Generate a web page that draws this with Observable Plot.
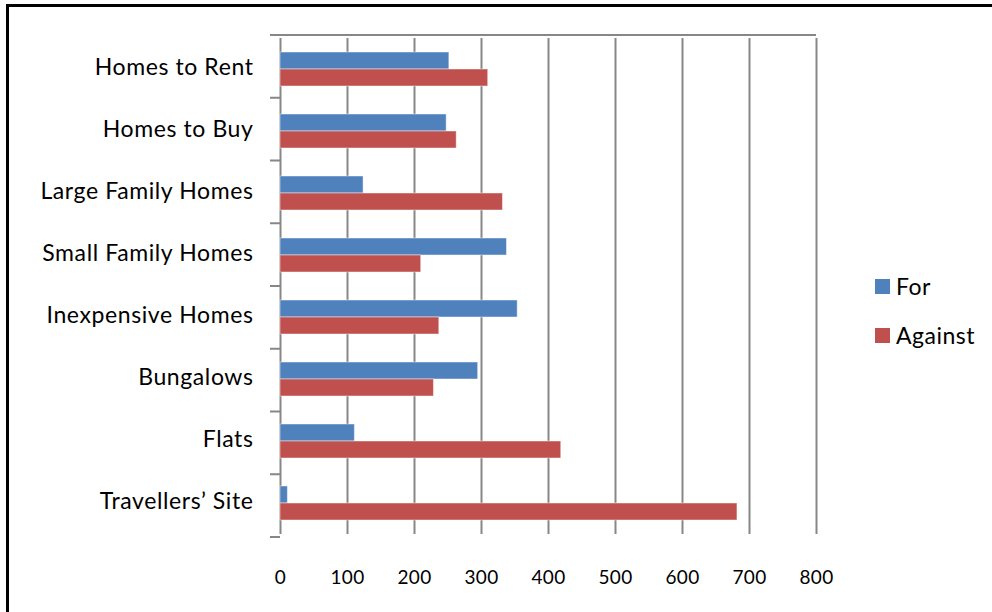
<!DOCTYPE html>
<html>
<head>
<meta charset="utf-8">
<script src="https://cdn.jsdelivr.net/npm/d3@7"></script>
<script src="https://cdn.jsdelivr.net/npm/@observablehq/plot@0.6"></script>
<style>
  html, body { margin: 0; padding: 0; background: #fff; overflow: hidden; }
  #wrap { position: relative; width: 992px; height: 612px; font-family: Lato, "Open Sans", sans-serif; }
  #border { position: absolute; left: 6px; top: 4px; width: 1100px; height: 800px; border: 3px solid #000; box-sizing: border-box; }
  #chart { position: absolute; left: 0; top: 0; }
  #legend { position: absolute; left: 875px; top: 273px; font-size: 23px; letter-spacing: 0.5px; color: #000; }
  .item { display: flex; align-items: center; height: 26px; margin-bottom: 23px; }
  .sw { width: 15px; height: 15px; margin-right: 6px; }
  .cat text { letter-spacing: 0.6px; }
  .xt text { letter-spacing: 0.4px; }
</style>
</head>
<body>
<div id="wrap">
  <div id="border"></div>
  <div id="chart"></div>
  <div id="legend"></div>
</div>
<script>
const categories = ["Homes to Rent", "Homes to Buy", "Large Family Homes", "Small Family Homes", "Inexpensive Homes", "Bungalows", "Flats", "Travellers’ Site"];
const series = ["For", "Against"];
const forValues = [252, 248, 124, 338, 354, 295, 111, 11];
const againstValues = [310, 263, 332, 210, 237, 229, 419, 682];
const xTicks = [0, 100, 200, 300, 400, 500, 600, 700, 800];
const colors = ["#4F81BD", "#C0504D"];

const data = [];
categories.forEach((c, i) => {
  data.push({category: c, series: "For", value: forValues[i]});
  data.push({category: c, series: "Against", value: againstValues[i]});
});

const plot = Plot.plot({
  width: 992,
  height: 612,
  marginLeft: 280,
  marginRight: 176,
  marginTop: 35,
  marginBottom: 75,
  style: {fontFamily: "Lato, 'Open Sans', sans-serif", color: "#000", background: "transparent"},
  x: {domain: [0, 800], axis: null},
  y: {domain: series, paddingInner: 0, paddingOuter: 0.79, axis: null},
  fy: {domain: categories, padding: 0, axis: null},
  color: {domain: series, range: colors},
  marks: [
    Plot.ruleX(xTicks, {stroke: "#878787", strokeWidth: 2}),
    Plot.barX(data, {fy: "category", y: "series", x: "value", fill: "series", stroke: "#fff", strokeOpacity: 0.45, strokeWidth: 1}),
    Plot.axisFy({anchor: "left", tickSize: 0, tickPadding: 27, fontSize: 23, dy: -2, label: null, fill: "#000", className: "cat"}),
    Plot.axisX({anchor: "bottom", ticks: xTicks, tickSize: 0, tickPadding: 36, fontSize: 19, label: null, fill: "#000", className: "xt", tickFormat: d => String(d)})
  ]
});

document.getElementById("chart").appendChild(plot);

// category boundary ticks and top edge line, positioned from the plot's own scales
const fyS = plot.scale("fy");
const xS = plot.scale("x");
const band = d3.scaleBand().domain(fyS.domain).range(fyS.range).padding(0);
const xl = d3.scaleLinear().domain(xS.domain).range(xS.range);
const svg = d3.select(plot);
const g = svg.append("g").attr("stroke", "#878787").attr("stroke-width", 2);
const bounds = categories.map(c => band(c)).concat([band(categories[categories.length - 1]) + band.bandwidth()]);
bounds.forEach(yv => {
  g.append("line").attr("x1", xl(0) - 10).attr("x2", xl(0)).attr("y1", yv).attr("y2", yv);
});
g.append("line").attr("x1", xl(0)).attr("x2", xl(800)).attr("y1", bounds[0]).attr("y2", bounds[0]);

const legend = document.getElementById("legend");
series.forEach((s, i) => {
  const item = document.createElement("div");
  item.className = "item";
  const sw = document.createElement("div");
  sw.className = "sw";
  sw.style.background = colors[i];
  const t = document.createElement("span");
  t.textContent = s;
  item.appendChild(sw);
  item.appendChild(t);
  legend.appendChild(item);
});
</script>
</body>
</html>
